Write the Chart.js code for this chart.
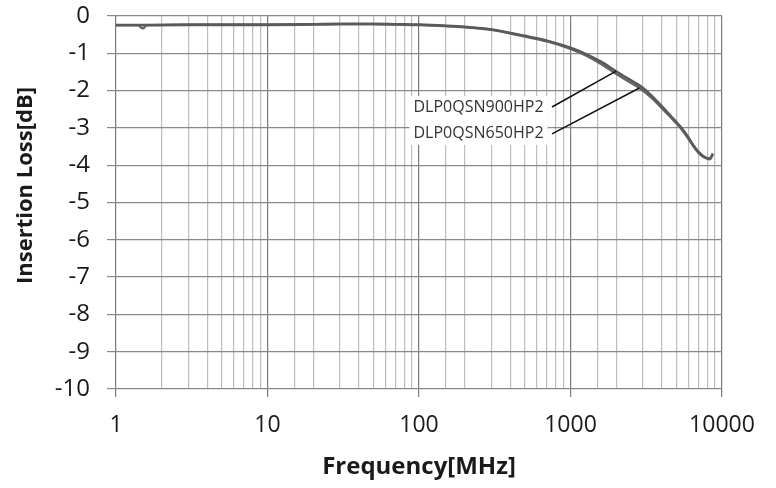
<!DOCTYPE html>
<html>
<head>
<meta charset="utf-8">
<script src="https://cdn.jsdelivr.net/npm/chart.js@4.4.1/dist/chart.umd.min.js"></script>
<style>
  html, body { margin: 0; padding: 0; background: #fff; }
  #wrap { width: 776px; height: 488px; position: relative; }
</style>
</head>
<body>
<div id="wrap"><canvas id="grafico"></canvas></div>
<script>
// frequency points in MHz
const freqs = [1, 1.4, 1.5, 1.6, 3, 10, 20, 30, 50, 70, 100, 150, 200, 300, 500, 700,
    1000, 1300, 1600, 2000, 2400, 2850, 3400, 3900, 4500, 5300, 6000, 6500, 7000, 7700, 8300, 8700];
const loss900 = [-0.24, -0.24, -0.24, -0.24, -0.23, -0.23, -0.22, -0.21, -0.21, -0.22, -0.23, -0.26, -0.29, -0.36, -0.53, -0.66,
    -0.85, -1.04, -1.23, -1.48, -1.68, -1.86, -2.12, -2.37, -2.64, -2.96, -3.25, -3.48, -3.64, -3.78, -3.82, -3.68];
const loss650 = [-0.25, -0.25, -0.33, -0.25, -0.24, -0.24, -0.23, -0.22, -0.22, -0.23, -0.24, -0.27, -0.30, -0.37, -0.55, -0.68,
    -0.88, -1.08, -1.29, -1.55, -1.75, -1.93, -2.18, -2.42, -2.68, -2.99, -3.29, -3.50, -3.67, -3.80, -3.84, -3.71];
const seriesNames = ['DLP0QSN900HP2', 'DLP0QSN650HP2'];
const yTicks = [0, -1, -2, -3, -4, -5, -6, -7, -8, -9, -10];
const yTitle = 'Insertion Loss[dB]';

// where the callout text sits and where its leaders touch the curves (data units)
const labelFreq = 92;
const labelDb = [-2.44, -3.16];
const leaderFromFreq = 755;
const leaderIdx = [19, 21]; // 2000 MHz on 900, 2850 MHz on 650

const FONT = "'Open Sans', 'Noto Sans', sans-serif";
const isDecade = v => Math.abs(Math.log10(v) - Math.round(Math.log10(v))) < 1e-9;

const toPoints = arr => freqs.map((f, i) => ({ x: f, y: arr[i] }));

const callout = {
    id: 'callout',
    afterDatasetsDraw(chart) {
        const { ctx, scales: { x, y } } = chart;
        const curves = [loss900, loss650];
        ctx.save();
        ctx.font = '16px ' + FONT;
        const tx = x.getPixelForValue(labelFreq);
        const w = Math.max(...seriesNames.map(s => ctx.measureText(s).width));
        const y0 = y.getPixelForValue(labelDb[0]);
        const y1 = y.getPixelForValue(labelDb[1]);
        ctx.fillStyle = '#fff';
        ctx.fillRect(tx - 4, y0 - 11, w + 8, y1 - y0 + 22);
        ctx.fillStyle = '#333';
        ctx.textBaseline = 'middle';
        ctx.textAlign = 'left';
        seriesNames.forEach((s, i) => ctx.fillText(s, tx, i ? y1 : y0));
        ctx.strokeStyle = '#111';
        ctx.lineWidth = 1.5;
        const lx = x.getPixelForValue(leaderFromFreq);
        leaderIdx.forEach((k, i) => {
            ctx.beginPath();
            ctx.moveTo(lx, i ? y1 : y0);
            ctx.lineTo(x.getPixelForValue(freqs[k]), y.getPixelForValue(curves[i][k]));
            ctx.stroke();
        });
        // y axis title, sits a little above the plot's middle like the original
        ctx.font = 'bold 22px ' + FONT;
        ctx.fillStyle = '#1a1a1a';
        ctx.textAlign = 'center';
        ctx.translate(26, (chart.chartArea.top + chart.chartArea.bottom) / 2 - 17);
        ctx.rotate(-Math.PI / 2);
        ctx.fillText(yTitle, 0, 0);
        ctx.restore();
    }
};

new Chart(document.getElementById('grafico').getContext('2d'), {
    type: 'line',
    data: {
        datasets: [
            {
                label: seriesNames[0],
                data: toPoints(loss900),
                borderColor: '#5a5a5a',
                borderWidth: 2.5,
                pointRadius: 0,
                cubicInterpolationMode: 'monotone'
            },
            {
                label: seriesNames[1],
                data: toPoints(loss650),
                borderColor: '#666',
                borderWidth: 2.5,
                pointRadius: 0,
                cubicInterpolationMode: 'monotone'
            }
        ]
    },
    options: {
        responsive: true,
        maintainAspectRatio: false,
        animation: false,
        layout: { padding: { top: 16, right: 54, left: 0, bottom: 0 } },
        plugins: {
            legend: { display: false },
            tooltip: { enabled: false }
        },
        scales: {
            x: {
                type: 'logarithmic',
                min: 1,
                max: 10000,
                afterFit: s => { s.height = 99; },
                border: { display: false },
                grid: {
                    color: c => (c.tick && isDecade(c.tick.value)) ? '#7a7a7a' : '#bdbdbd',
                    tickColor: c => (c.tick && isDecade(c.tick.value)) ? '#7a7a7a' : 'rgba(0,0,0,0)',
                    tickLength: 8,
                    lineWidth: 1.2
                },
                ticks: {
                    autoSkip: false,
                    maxRotation: 0,
                    padding: 15,
                    color: '#1a1a1a',
                    font: { family: FONT, size: 23 },
                    callback: v => isDecade(v) ? String(v) : ''
                },
                title: {
                    display: true,
                    text: 'Frequency[MHz]',
                    color: '#1a1a1a',
                    font: { family: FONT, size: 24, weight: 'bold' },
                    padding: { top: 4, bottom: 6 }
                }
            },
            y: {
                min: -10,
                max: 0,
                afterFit: s => { s.width = 116; s.paddingTop = 0; s.paddingBottom = 0; },
                afterBuildTicks: s => { s.ticks = yTicks.map(v => ({ value: v })); },
                border: { display: false },
                grid: {
                    color: '#8a8a8a',
                    tickColor: '#8a8a8a',
                    tickLength: 9,
                    lineWidth: 1.2
                },
                ticks: {
                    padding: 17,
                    color: '#1a1a1a',
                    font: { family: FONT, size: 24 }
                }
            }
        }
    },
    plugins: [callout]
});
</script>
</body>
</html>
